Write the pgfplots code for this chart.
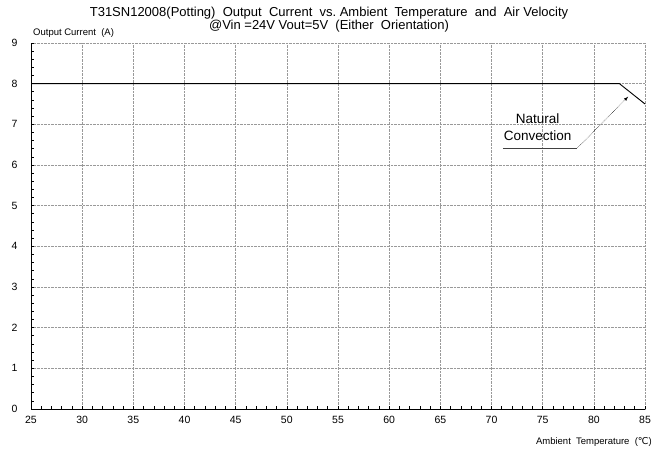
\documentclass[border=0pt]{standalone}
\usepackage{fontspec}
\setmainfont{Liberation Sans}
\newfontfamily\dejavu{DejaVu Sans}
\usepackage{pgfplots}
\pgfplotsset{compat=1.18}
\begin{document}
\begin{tikzpicture}
\begin{axis}[
  name=ax,
  scale only axis,
  width=614pt, height=366pt,
  xmin=25, xmax=85, ymin=0, ymax=9,
  xtick={25,30,...,85}, ytick={0,1,...,9},
  minor x tick num=4, minor y tick num=4,
  axis x line*=bottom, axis y line*=left,
  axis line style={black, line width=0.8pt, -},
  tick align=inside,
  major tick length=3pt, minor tick length=3pt,
  tick style={black, line width=0.6pt},
  grid=major,
  major grid style={gray!80, densely dotted, line width=0.5pt},
  /pgf/number format/assume math mode=true,
  ticklabel style={font=\fontsize{10.5}{12}\selectfont},
  xticklabel style={yshift=-4pt},
  yticklabel style={xshift=-10pt},
  clip=false,
]
\addplot[black, line width=0.9pt] coordinates {(25,8) (82.5,8) (85,7.5)};
\draw[black!75, line width=0.8pt] (axis cs:71.1,6.42) -- (axis cs:78.4,6.42);
\draw[densely dotted, black, -latex, line width=0.5pt] (axis cs:78.4,6.42) -- (axis cs:83.35,7.68);
\node[align=center, font=\fontsize{13.5}{17}\selectfont] at (axis cs:74.5,6.93) {Natural\\Convection};
\end{axis}
\node[anchor=south, align=center, font=\fontsize{13}{13}\selectfont, inner sep=0pt] at ([xshift=-9pt,yshift=11pt]ax.north) {T31SN12008(Potting)\ \ Output\ \ Current\ \ vs.\ Ambient\ \ Temperature\ \ and\ \ Air\ Velocity\\@Vin =24V\ Vout=5V\ \ (Either\ \ Orientation)};
\node[anchor=base west, font=\fontsize{9.5}{11}\selectfont, inner sep=0pt] at ([xshift=2pt,yshift=7pt]ax.north west) {Output\ Current\ \ (A)};
\node[anchor=base east, font=\fontsize{9.5}{11}\selectfont, inner sep=0pt] at ([xshift=7pt,yshift=-36pt]ax.south east) {Ambient\ \ Temperature\ \ ({\dejavu ℃})};
\pgfresetboundingbox
\path ([xshift=-31pt,yshift=-41pt]ax.south west) rectangle ([xshift=20pt,yshift=43pt]ax.north east);
\end{tikzpicture}
\end{document}
